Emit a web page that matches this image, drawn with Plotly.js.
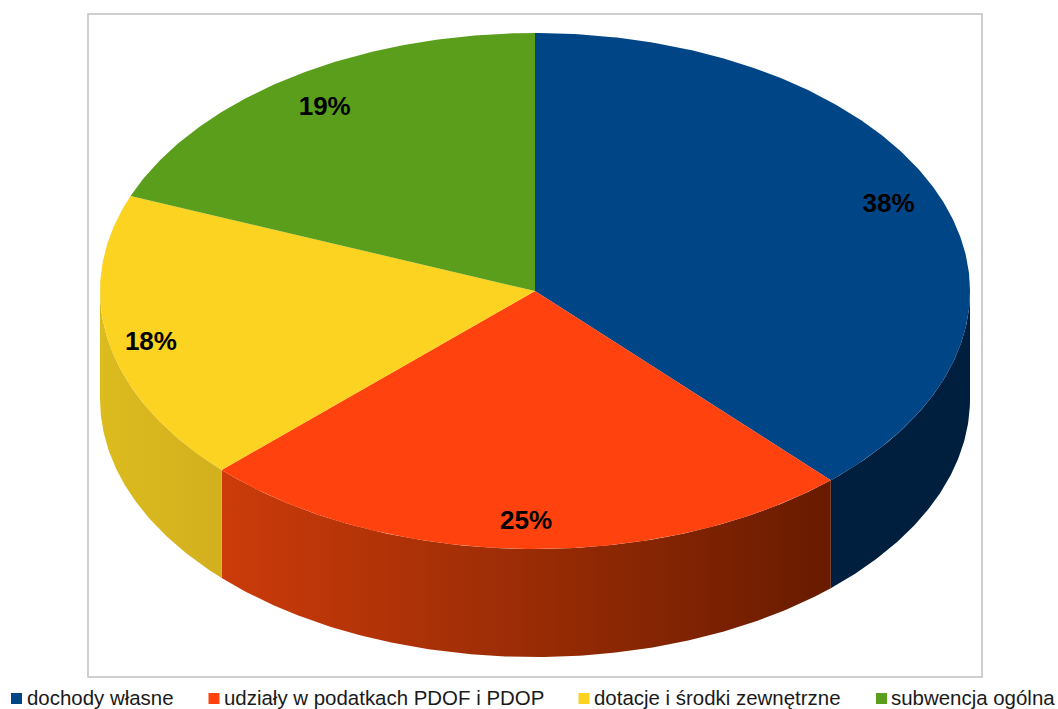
<!DOCTYPE html>
<html><head><meta charset="utf-8">
<script src="https://cdn.plot.ly/plotly-3.0.1.min.js"></script>
<style>html,body{margin:0;padding:0;background:#fff;overflow:hidden}#chart{width:1058px;height:709px}</style>
</head><body><div id="chart"></div>
<script>
// Data
const categories = ['dochody własne','udziały w podatkach PDOF i PDOP','dotacje i środki zewnętrzne','subwencja ogólna'];
const values = [38.1,24.7,18.2,19.0];
const labels = ['38%','25%','18%','19%'];
// Styles
const topColors = ['#004586','#ff420e','#fcd320','#5a9e1c'];
const wallScales = [
  [[0,'#001f3e'],[1,'#001f3e']],
  [[0,'#cc3b0a'],[0.5,'#9a2c05'],[1,'#681b00']],
  [[0,'#dcbb1e'],[1,'#d2b01e']],
  [[0,'#2d5210'],[1,'#2d5210']]
];
// Layout geometry (pixels of the page)
const W=1058,H=709, frame={l:88,r:982,t:14,b:677}, centre={x:535,y:291}, rx=435, ry=258, depthPx=108;
const depth=depthPx/ry;
const labelR=[[.873,.937],[.73,.888],[.90,1.0],[.86,.868]], labelDy=2.5;
const markerPx=[16.5,214,584,881.5], markerPy=698.5;
const legendTextPx=[27,224,594,891], legendTextPy=700;

const total=values.reduce((a,b)=>a+b,0);
const pt=a=>[Math.sin(a),Math.cos(a)];
function arc(a0,a1){const n=Math.max(2,Math.ceil(Math.abs(a1-a0)/0.01));const o=[];for(let i=0;i<=n;i++){o.push(pt(a0+(a1-a0)*i/n));}return o;}
const traces=[];
let cum=0; const slices=[];
values.forEach(v=>{const a0=cum/total*2*Math.PI;cum+=v;slices.push([a0,cum/total*2*Math.PI]);});
// walls: only the part of each slice on the front half of the disc
slices.forEach(([a0,a1],i)=>{
  const s=Math.max(a0,Math.PI/2), e=Math.min(a1,3*Math.PI/2);
  if(e<=s) return;
  const top=arc(s,e), bot=arc(e,s).map(p=>[p[0],p[1]-depth]);
  const all=top.concat(bot); all.push(top[0]);
  traces.push({type:'scatter',mode:'lines',x:all.map(p=>p[0]),y:all.map(p=>p[1]),fill:'toself',
    line:{width:0,color:wallScales[i][0][1]},fillgradient:{type:'horizontal',colorscale:wallScales[i]},hoverinfo:'skip',showlegend:false});
});
// top faces
slices.forEach(([a0,a1],i)=>{
  const p=[[0,0]].concat(arc(a0,a1)); p.push([0,0]);
  traces.push({type:'scatter',mode:'lines',name:categories[i],x:p.map(q=>q[0]),y:p.map(q=>q[1]),fill:'toself',fillcolor:topColors[i],
    line:{width:0,color:topColors[i]},hoverinfo:'name',showlegend:false});
});
// percentage labels
const mids=slices.map(([a,b])=>(a+b)/2);
traces.push({type:'scatter',mode:'text',x:mids.map((m,i)=>Math.sin(m)*labelR[i][0]),y:mids.map((m,i)=>Math.cos(m)*labelR[i][1]-labelDy/ry),
  text:labels,textposition:'middle center',textfont:{family:'"Liberation Sans",sans-serif',size:26,color:'#000',weight:700},hoverinfo:'skip',showlegend:false});
// legend row
traces.push({type:'scatter',mode:'markers',
  x:markerPx.map(p=>(p-centre.x)/rx),y:markerPx.map(()=>(centre.y-markerPy)/ry),
  marker:{symbol:'square',size:11,color:topColors},hoverinfo:'skip',showlegend:false});
traces.push({type:'scatter',mode:'text',
  x:legendTextPx.map(p=>(p-centre.x)/rx),y:legendTextPx.map(()=>(centre.y-legendTextPy)/ry),
  text:categories,textposition:'middle right',
  textfont:{family:'"Liberation Sans",sans-serif',size:20.45,color:'#1a1a1a'},hoverinfo:'skip',showlegend:false});

const axis={visible:false,fixedrange:true};
const layout={width:W,height:H,autosize:false,paper_bgcolor:'#fff',plot_bgcolor:'#fff',showlegend:false,
  margin:{l:0,r:0,t:0,b:0,pad:0},
  xaxis:Object.assign({range:[(0-centre.x)/rx,(W-centre.x)/rx]},axis),
  yaxis:Object.assign({range:[(centre.y-H)/ry,(centre.y-0)/ry]},axis),
  shapes:[{type:'rect',xref:'paper',yref:'paper',layer:'below',x0:frame.l/W,x1:frame.r/W,y0:1-frame.b/H,y1:1-frame.t/H,line:{color:'#c0c0c0',width:1.5},fillcolor:'rgba(0,0,0,0)'}]};
Plotly.newPlot('chart',traces,layout,{displayModeBar:false,responsive:false});
</script></body></html>
